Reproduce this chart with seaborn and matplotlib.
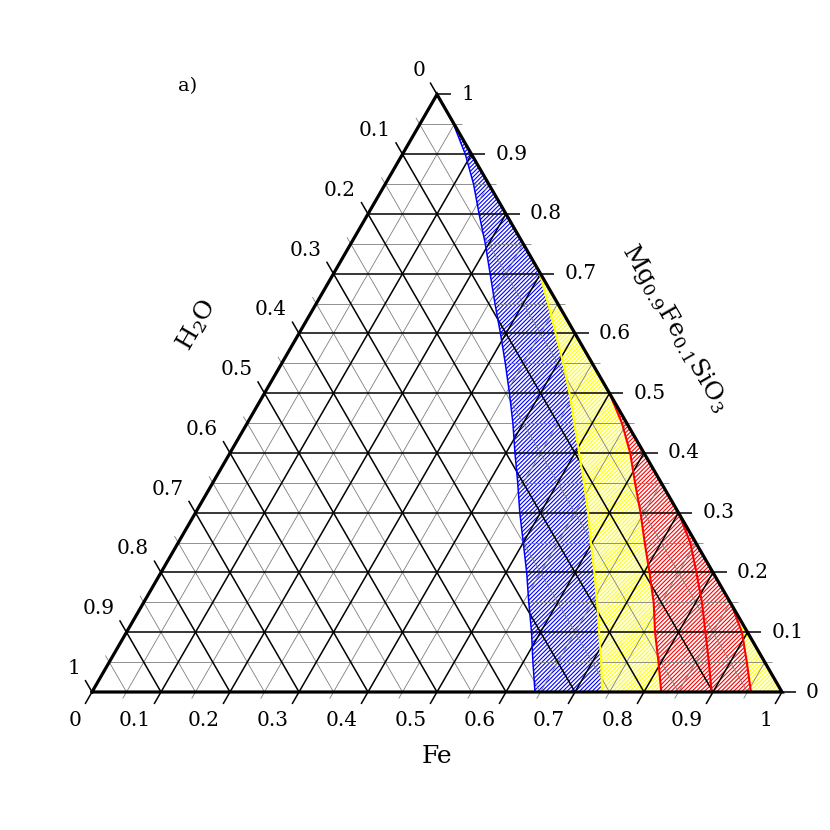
import numpy as np
import pandas as pd
import matplotlib
matplotlib.use("Agg")
import matplotlib.pyplot as plt
import seaborn as sns

# ternary diagram: Fe (bottom), H2O (left), Mg0.9Fe0.1SiO3 (right)
sns.set_theme(style="white")
plt.rcParams['font.family'] = ['DejaVu Serif']
plt.rcParams['mathtext.fontset'] = 'dejavuserif'
plt.rcParams['text.color'] = 'black'
plt.rcParams['hatch.linewidth'] = 0.8

# boundary curves as (Mg, Fe) pairs
blue_mg = [0.97, 0.95, 0.90, 0.85, 0.80, 0.75, 0.70, 0.65, 0.60, 0.55, 0.50,
           0.45, 0.40, 0.35, 0.30, 0.25, 0.20, 0.15, 0.10, 0.05, 0.00]
blue_fe = [0.030, 0.049, 0.091, 0.128, 0.161, 0.195, 0.227, 0.259, 0.292, 0.324, 0.355,
           0.385, 0.413, 0.442, 0.470, 0.500, 0.530, 0.558, 0.587, 0.614, 0.642]

yellow_mg = [0.725, 0.70, 0.65, 0.60, 0.55, 0.50, 0.45, 0.40, 0.35, 0.30,
             0.25, 0.20, 0.15, 0.10, 0.05, 0.00]
yellow_fe = [0.275, 0.299, 0.336, 0.372, 0.408, 0.442, 0.474, 0.506, 0.538, 0.569,
             0.598, 0.628, 0.657, 0.685, 0.713, 0.739]

red1_mg = [0.50, 0.45, 0.40, 0.35, 0.30, 0.25, 0.20, 0.15, 0.10, 0.05, 0.00]
red1_fe = [0.500, 0.543, 0.580, 0.612, 0.645, 0.676, 0.708, 0.739, 0.766, 0.796, 0.825]

red2_mg = [0.30, 0.25, 0.20, 0.15, 0.10, 0.05, 0.00]
red2_fe = [0.700, 0.742, 0.776, 0.809, 0.839, 0.869, 0.898]

red3_mg = [0.147, 0.10, 0.05, 0.00]
red3_fe = [0.853, 0.892, 0.924, 0.955]

tick_values = [0.0, 0.1, 0.2, 0.3, 0.4, 0.5, 0.6, 0.7, 0.8, 0.9, 1.0]
minor_values = [0.05, 0.15, 0.25, 0.35, 0.45, 0.55, 0.65, 0.75, 0.85, 0.95]

H = np.sqrt(3) / 2


def cart(fe, mg):
    fe = np.asarray(fe, float)
    mg = np.asarray(mg, float)
    return fe + mg / 2, mg * H


fig = plt.figure(figsize=(8.3, 8.3), dpi=100)
ax = fig.add_axes([92 / 830, 138 / 830, 690 / 830, 690 / 830])

# --- hatched regions ---
def region(fe, mg, color):
    x, y = cart(fe, mg)
    ax.fill(x, y, facecolor='white', edgecolor=color, hatch='////////',
            linewidth=0, zorder=1)

region(blue_fe + [1.0], blue_mg + [0.0], '#0000FF')
region(yellow_fe + [1.0], yellow_mg + [0.0], '#FFFF00')
region(red1_fe + red3_fe[::-1], red1_mg + red3_mg[::-1], '#FF0000')

# --- grid and ticks ---
major_len = 0.02
minor_len = 0.011
up_left = np.array([-0.5, H])
down_left = np.array([-0.5, -H])


def grid_set(v, color, lw, tl):
    # constant Mg (horizontal), tick to the right
    x0, y0 = cart(0, v)
    x1, y1 = cart(1 - v, v)
    ax.plot([x0, x1 + tl], [y0, y1], color=color, lw=lw, zorder=2,
            clip_on=False, solid_capstyle='butt')
    # constant Fe, tick below to the lower left
    x0, y0 = cart(v, 0)
    x1, y1 = cart(v, 1 - v)
    ax.plot([x0 + down_left[0] * tl, x1], [y0 + down_left[1] * tl, y1],
            color=color, lw=lw, zorder=2, clip_on=False, solid_capstyle='butt')
    # constant H2O, tick to the upper left
    x0, y0 = cart(0, 1 - v)
    x1, y1 = cart(1 - v, 0)
    ax.plot([x0 + up_left[0] * tl, x1], [y0 + up_left[1] * tl, y1],
            color=color, lw=lw, zorder=2, clip_on=False, solid_capstyle='butt')


for v in minor_values:
    grid_set(v, '#7f7f7f', 0.6, minor_len)
for v in tick_values:
    grid_set(v, 'black', 1.1, major_len)

# triangle border
bx, by = cart([0, 1, 0, 0], [0, 0, 1, 0])
ax.plot(bx, by, color='black', lw=2.3, zorder=4, clip_on=False,
        solid_joinstyle='miter')

# --- boundary curves ---
curves = [(blue_fe, blue_mg, '#0000FF', 1.1),
          (yellow_fe, yellow_mg, '#FFFF00', 1.5),
          (red1_fe, red1_mg, '#FF0000', 1.5),
          (red2_fe, red2_mg, '#FF0000', 1.5),
          (red3_fe, red3_mg, '#FF0000', 1.5)]
for fe, mg, col, lw in curves:
    x, y = cart(fe, mg)
    sns.lineplot(x=x, y=y, sort=False, estimator=None, color=col, lw=lw,
                 ax=ax, zorder=3, legend=False)

ax.set_xlim(0, 1)
ax.set_ylim(0, 1)
ax.axis('off')

# --- tick labels ---
px = 1 / 690
fs = 14.5


def fmt(v):
    if v == 0:
        return '0'
    if v == 1:
        return '1'
    return f'{v:.1f}'


for v in tick_values:
    # bottom (Fe)
    x, y = cart(v, 0)
    ax.text(x - 10 * px, y - 28 * px, fmt(v), ha='right', va='center', fontsize=fs)
    # left (H2O): H2O = v on the left edge
    x, y = cart(0, 1 - v)
    ax.text(x - 12 * px, y + 23.5 * px, fmt(v), ha='right', va='center', fontsize=fs)
    # right (Mg silicate)
    x, y = cart(1 - v, v)
    ax.text(x + 24 * px, y, fmt(v), ha='left', va='center', fontsize=fs)

# --- axis titles ---
ax.text(0.5, -0.094, 'Fe', ha='center', va='center', fontsize=18)
ax.text(0.152, 0.532, r'H$_2$O', ha='center', va='center', fontsize=18,
        rotation=60, rotation_mode='anchor')
ax.text(0.845, 0.5275, r'Mg$_{0.9}$Fe$_{0.1}$SiO$_3$', ha='center', va='center',
        fontsize=18, rotation=-60, rotation_mode='anchor')
ax.text(0.139, 0.878, 'a)', ha='center', va='center', fontsize=14)

fig.savefig('out.png', dpi=100)
